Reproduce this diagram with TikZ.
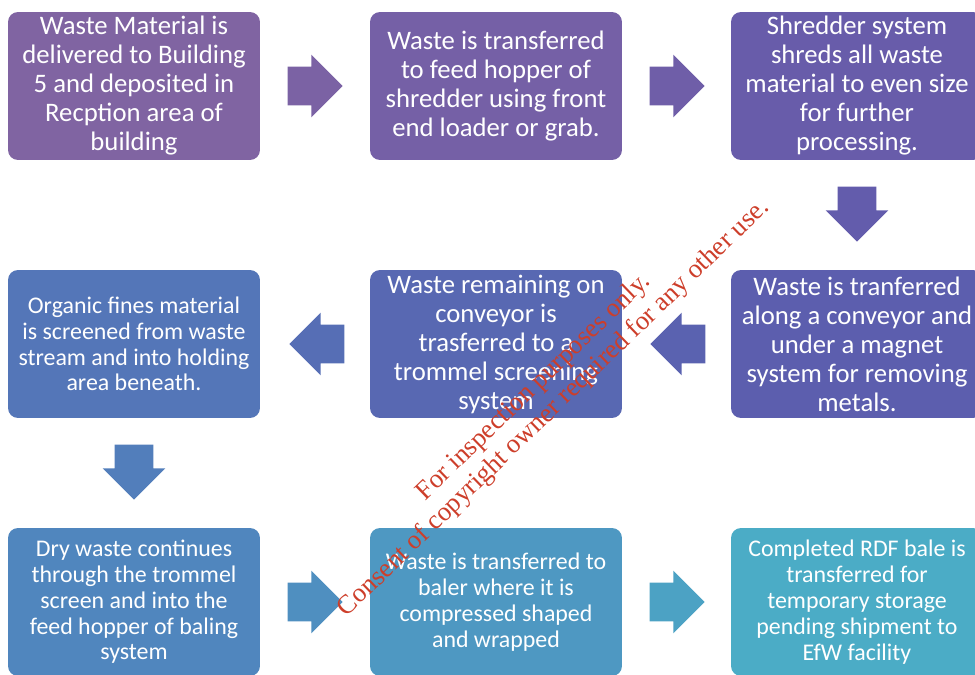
\documentclass[tikz,border=0pt]{standalone}
\usepackage{fontspec}
\setmainfont{Carlito}
\newfontfamily\wmfont{Liberation Serif}
\usetikzlibrary{shapes.arrows,calc}

\begin{document}
\begin{tikzpicture}[x=0.02cm,y=-0.02cm]
\definecolor{stepA}{RGB}{128,100,162}
\definecolor{stepB}{RGB}{117,96,166}
\definecolor{stepC}{RGB}{104,92,170}
\definecolor{stepD}{RGB}{92,94,174}
\definecolor{stepE}{RGB}{88,104,178}
\definecolor{stepF}{RGB}{84,118,184}
\definecolor{stepG}{RGB}{80,134,190}
\definecolor{stepH}{RGB}{78,152,194}
\definecolor{stepI}{RGB}{75,172,198}
\definecolor{linkA}{RGB}{123,98,164}
\definecolor{linkB}{RGB}{111,94,168}
\definecolor{linkC}{RGB}{99,92,172}
\definecolor{linkD}{RGB}{90,98,176}
\definecolor{linkE}{RGB}{86,110,181}
\definecolor{linkF}{RGB}{82,126,187}
\definecolor{linkG}{RGB}{79,143,192}
\definecolor{linkH}{RGB}{76,162,196}
\definecolor{watermark}{RGB}{205,62,42}
\tikzset{
  procbox/.style={fill=#1,rounded corners=0.2cm,minimum width=5.04cm,
    minimum height=2.96cm,inner sep=0pt,text=white,align=center},
  bigtxt/.style={font=\fontsize{15.2}{16.5}\selectfont},
  smalltxt/.style={font=\fontsize{13.6}{14.7}\selectfont},
  flowarrow/.style={single arrow,fill=#1,minimum height=1.1cm,anchor=tail,
    inner xsep=0pt,inner ysep=0.38cm,single arrow head extend=0.24cm}
}
\useasboundingbox (0,0) rectangle (975,675);

% process boxes, in flow order
\node[procbox=stepA,bigtxt] (deliver) at (134,86)
  {Waste Material is\\delivered to Building\\5 and deposited in\\Recption area of\\building};
\node[procbox=stepB,bigtxt] (hopper) at (496,86)
  {Waste is transferred\\to feed hopper of\\shredder using front\\end loader or grab.};
\node[procbox=stepC,bigtxt] (shred) at (857,86)
  {Shredder system\\shreds all waste\\material to even size\\for further\\processing.};
\node[procbox=stepD,bigtxt] (magnet) at (857,344)
  {Waste is tranferred\\along a conveyor and\\under a magnet\\system for removing\\metals.};
\node[procbox=stepE,bigtxt] (trommel) at (496,344)
  {Waste remaining on\\conveyor is\\trasferred to a\\trommel screening\\system};
\node[procbox=stepF,smalltxt] (fines) at (134,344)
  {Organic fines material\\is screened from waste\\stream and into holding\\area beneath.};
\node[procbox=stepG,smalltxt] (dry) at (134,602)
  {Dry waste continues\\through the trommel\\screen and into the\\feed hopper of baling\\system};
\node[procbox=stepH,smalltxt] (baler) at (496,602)
  {Waste is transferred to\\baler where it is\\compressed shaped\\and wrapped};
\node[procbox=stepI,smalltxt] (bale) at (857,602)
  {Completed RDF bale is\\transferred for\\temporary storage\\pending shipment to\\EfW facility};

% block arrows between the boxes, tail set just off the source box
\node[flowarrow=linkA] (a1) at ($(deliver.east)+(27,0)$) {};
\node[flowarrow=linkB] (a2) at ($(hopper.east)+(27,0)$) {};
\node[flowarrow=linkC,rotate=-90] (a3) at ($(shred.south)+(0,26)$) {};
\node[flowarrow=linkD,rotate=180] (a4) at ($(magnet.west)+(-25,0)$) {};
\node[flowarrow=linkE,rotate=180] (a5) at ($(trommel.west)+(-25,0)$) {};
\node[flowarrow=linkF,rotate=-90] (a6) at ($(fines.south)+(0,26)$) {};
\node[flowarrow=linkG] (a7) at ($(dry.east)+(27,0)$) {};
\node[flowarrow=linkH] (a8) at ($(baler.east)+(27,0)$) {};

% diagonal stamp over the middle
\node[text=watermark,rotate=44,align=center,font=\wmfont\fontsize{15.2}{16.5}\selectfont]
  (stamp) at (544,398)
  {For inspection purposes only.\\Consent of copyright owner required for any other use.};
\end{tikzpicture}
\end{document}
